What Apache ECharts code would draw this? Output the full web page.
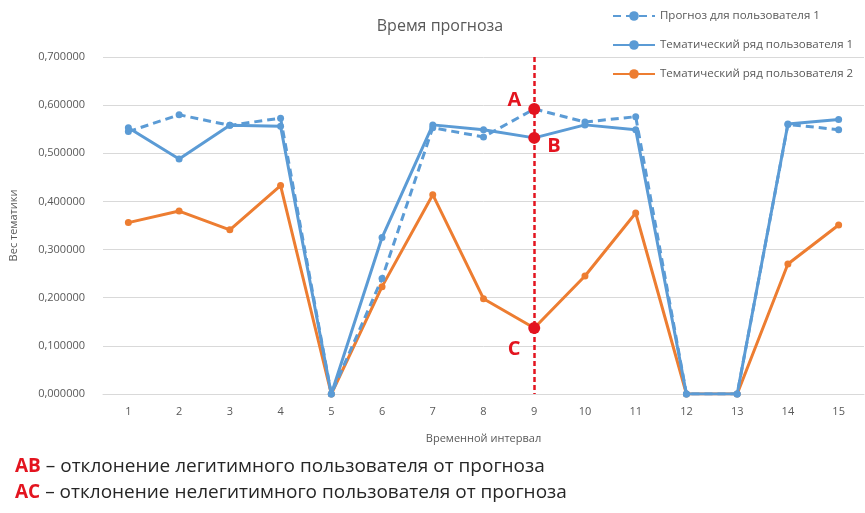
<!DOCTYPE html>
<html>
<head>
<meta charset="utf-8">
<script src="https://cdn.jsdelivr.net/npm/echarts@6/dist/echarts.min.js"></script>
<style>
  html, body { margin: 0; padding: 0; background: #fff; }
  #chart { width: 865px; height: 513px; }
</style>
</head>
<body>
<div id="chart"></div>
<script>
// Time intervals on the x axis
const intervals = ['1', '2', '3', '4', '5', '6', '7', '8', '9', '10', '11', '12', '13', '14', '15'];

// Forecast for user 1 (dashed)
const forecastUser1 = [0.545, 0.580, 0.558, 0.573, 0.000, 0.240, 0.553, 0.534, 0.592, 0.565, 0.576, 0.000, 0.000, 0.560, 0.549];
// Topic series of user 1
const topicUser1 = [0.553, 0.488, 0.558, 0.556, 0.000, 0.325, 0.559, 0.549, 0.532, 0.559, 0.549, 0.000, 0.000, 0.561, 0.570];
// Topic series of user 2
const topicUser2 = [0.356, 0.380, 0.341, 0.433, 0.000, 0.223, 0.414, 0.198, 0.137, 0.245, 0.376, 0.000, 0.000, 0.270, 0.351];

// Interval where the deviations are marked
const markIndex = 8;

const yTicks = { min: 0, max: 0.7, interval: 0.1 };

const BLUE = '#5B9BD5';
const ORANGE = '#ED7D31';
const RED = '#E3141F';
const GREY = '#595959';

const chart = echarts.init(document.getElementById('chart'));

function pointMark(value, text, pos, offset) {
  return {
    coord: [markIndex, value],
    symbol: 'circle',
    symbolSize: 12,
    itemStyle: { color: RED },
    label: {
      show: true,
      formatter: text,
      position: pos,
      offset: offset,
      color: RED,
      fontSize: 20,
      fontWeight: 'bold',
      fontFamily: 'Open Sans'
    }
  };
}

chart.setOption({
  animation: false,
  backgroundColor: '#fff',
  textStyle: { fontFamily: 'Open Sans' },
  title: {
    text: 'Время прогноза',
    left: 435,
    top: 13,
    textAlign: 'center',
    textStyle: { color: GREY, fontSize: 16, fontWeight: 'normal', fontFamily: 'Open Sans' }
  },
  legend: {
    orient: 'vertical',
    left: 612,
    top: 10,
    padding: 0,
    itemWidth: 42,
    itemHeight: 12,
    itemGap: 17,
    textStyle: { color: GREY, fontSize: 11.5, fontFamily: 'Open Sans' },
    data: ['Прогноз для пользователя 1', 'Тематический ряд пользователя 1', 'Тематический ряд пользователя 2']
  },
  grid: { left: 96, right: 1, top: 57, bottom: 119 },
  xAxis: {
    type: 'category',
    data: intervals,
    boundaryGap: true,
    name: 'Временной интервал',
    nameLocation: 'middle',
    nameGap: 39,
    nameTextStyle: { color: GREY, fontSize: 11 },
    axisLine: { lineStyle: { color: '#d9d9d9' } },
    axisTick: { show: false },
    axisLabel: { color: GREY, fontSize: 11, margin: 12 }
  },
  yAxis: {
    type: 'value',
    min: yTicks.min,
    max: yTicks.max,
    interval: yTicks.interval,
    name: 'Вес тематики',
    nameLocation: 'middle',
    nameGap: 84,
    nameRotate: 90,
    nameTextStyle: { color: GREY, fontSize: 11 },
    axisLine: { show: false },
    axisTick: { show: false },
    splitLine: { lineStyle: { color: '#d9d9d9', width: 1 } },
    axisLabel: {
      color: GREY,
      fontSize: 11,
      margin: 18,
      formatter: v => v.toFixed(6).replace('.', ',')
    }
  },
  series: [
    {
      name: 'Прогноз для пользователя 1',
      type: 'line',
      data: forecastUser1,
      symbol: 'circle',
      symbolSize: 7,
      lineStyle: { color: BLUE, width: 3, type: [8, 5] },
      itemStyle: { color: BLUE },
      z: 3,
      markLine: {
        silent: true,
        symbol: 'none',
        label: { show: false },
        lineStyle: { color: RED, width: 2.5, type: [5, 3] },
        data: [[{ coord: [markIndex, yTicks.max] }, { coord: [markIndex, yTicks.min] }]]
      },
      markPoint: { data: [pointMark(forecastUser1[markIndex], 'A', 'left', [-2, -9])] }
    },
    {
      name: 'Тематический ряд пользователя 1',
      type: 'line',
      data: topicUser1,
      symbol: 'circle',
      symbolSize: 7,
      lineStyle: { color: BLUE, width: 3 },
      itemStyle: { color: BLUE },
      z: 3,
      markPoint: { data: [pointMark(topicUser1[markIndex], 'B', 'right', [2, 8])] }
    },
    {
      name: 'Тематический ряд пользователя 2',
      type: 'line',
      data: topicUser2,
      symbol: 'circle',
      symbolSize: 7,
      lineStyle: { color: ORANGE, width: 3 },
      itemStyle: { color: ORANGE },
      z: 2,
      markPoint: { data: [pointMark(topicUser2[markIndex], 'C', 'bottom', [-20, 0])] }
    }
  ],
  graphic: [
    {
      type: 'text',
      left: 15,
      top: 457,
      style: {
        text: '{r|AB} – отклонение легитимного пользователя от прогноза',
        font: '19px "Open Sans"',
        fill: '#262626',
        rich: { r: { fill: RED, fontWeight: 'bold', fontSize: 19, fontFamily: 'Open Sans' } }
      }
    },
    {
      type: 'text',
      left: 15,
      top: 483,
      style: {
        text: '{r|AC} – отклонение нелегитимного пользователя от прогноза',
        font: '19px "Open Sans"',
        fill: '#262626',
        rich: { r: { fill: RED, fontWeight: 'bold', fontSize: 19, fontFamily: 'Open Sans' } }
      }
    }
  ]
});
</script>
</body>
</html>
